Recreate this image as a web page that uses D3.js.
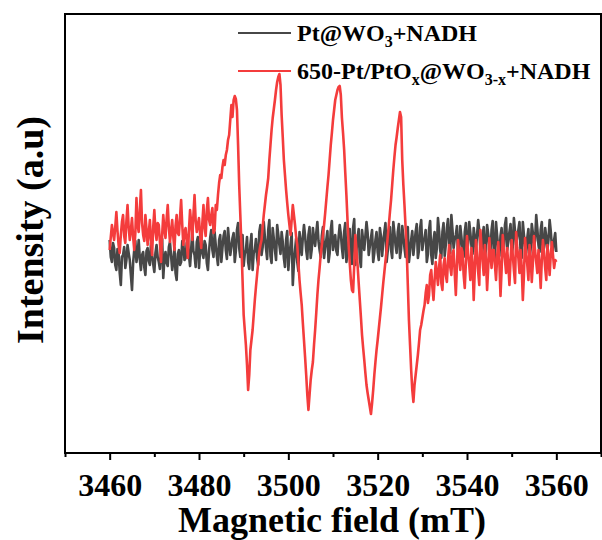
<!DOCTYPE html>
<html lang="en">
<head>
    <meta charset="UTF-8">
    <title>EPR</title>
    <style>
        body { margin: 0; background: #fff; }
        text { font-family: "Liberation Serif", "Times New Roman", serif; font-weight: bold; }
    </style>
</head>
<body>

    <svg id="svg" width="602" height="540"></svg>

    <script src="https://d3js.org/d3.v7.min.js"></script>
    <script>
        // field grid (mT), one reading every 0.25 mT
        const field = d3.range(3460, 3560.001, 0.25)

        // Pt@WO3+NADH (a.u.)
        const black = [
            5, -12, -17, 2, -3, -20, -25, -4, -7, -28, -40, -12, -10, -2, -23, -15, 0, -8, -15, -30,
            -45, -18, -5, 4, -17, -9, 5, -14, -25, -10, -7, -22, -30, -6, -3, -16, -20, 2, -10, -19,
            -27, -8, 0, -12, -17, -24, -5, 6, -33, -14, -7, -18, -21, -2, 3, -11, -25, -16, -3, -28,
            -35, -9, -5, -20, -17, 4, 1, -15, -13, 2, 5, -10, -21, -4, 13, -6, -10, -22, 3, 8,
            -23, -5, 9, -8, -13, 4, 0, -18, -25, -6, 7, 15, -5, -12, 13, 0, -11, -20, 5, 10,
            -17, -3, 9, 14, -5, -14, 17, 3, -10, -2, 7, 12, -17, -6, 15, 22, -3, -12, 5, 10,
            -21, -9, -5, 8, -17, -24, 0, 11, -25, -8, -5, 6, -13, -20, 13, 20, -10, -2, 23, 8,
            -3, -14, 15, 25, -11, -18, 17, 6, -5, -15, 20, 10, 0, -9, 13, 3, -13, -22, 5, 14,
            -25, -10, 0, 12, -40, -18, -5, 7, -17, -26, 13, 2, -10, 8, 20, 9, -5, -14, 10, 18,
            -13, -4, 17, 6, -1, 12, 23, 4, -5, -12, 9, 18, -13, -3, 5, 14, -17, -8, 15, 24,
            -5, 3, 10, -6, -10, 8, 20, 11, -3, -13, 13, 22, -17, -7, 5, 16, -10, -19, 17, 26,
            -20, -6, 7, 16, -13, -22, 15, 4, -5, 9, 23, 12, -10, -1, 7, 15, -17, -8, 5, 13,
            -7, -15, 17, 8, -11, 3, 13, 22, -17, -6, 9, 18, -5, -13, 23, 12, 0, -8, 13, 21,
            -13, -4, 19, 9, -3, -12, 10, 18, -17, -7, 5, 14, -10, 2, 13, 21, -13, -5, 17, 25,
            -5, 4, 7, 15, -17, -9, 15, 24, -10, -19, 5, 13, -13, -3, 27, 14, -5, -13, 13, 22,
            -11, 0, 17, 26, 0, -8, 30, 15, -3, 6, 10, 19, -13, -4, 19, 8, -5, -12, 13, 22,
            -10, 2, 23, 12, -1, -9, 17, 7, -7, 10, 25, 14, -3, -10, 10, 18, -13, -4, 20, 11,
            0, -7, 15, 24, -7, -14, 23, 9, -3, -11, 9, 17, -11, -2, 20, 27, -5, 4, 13, 21,
            -10, -2, 27, 14, 0, 8, 15, 23, -7, -13, 23, 10, -1, -8, 7, 16, -13, -4, 21, 12,
            -3, 5, 30, 16, 0, -7, 15, 23, -10, -2, 17, 8, -5, 6, 25, 14, -1, -6, 5, 12,
            -7
        ]

        // 650-Pt/PtOx@WO3-x+NADH (a.u.)
        const red = [
            -5, 8, 20, 12, 5, 18, 33, 14, 0, -8, 10, 23, 30, 9, 2, 24, 40, 18, 5, 15,
            27, 8, -5, 12, 47, 20, 13, 35, 55, 22, 10, 4, 30, 16, 0, 12, 25, 5, -10, 18,
            35, 14, 5, 22, 20, 3, -17, 10, 30, 15, 7, 26, 40, 18, 3, 14, 25, 8, -5, 19,
            30, 12, 10, 28, 45, 20, 0, 13, 17, 4, -13, 15, 35, 22, 5, 30, 50, 25, 13, 20,
            27, 10, -3, 22, 40, 18, 9, 35, 47, 25, 20, 30, 37, 12, 15, 40, 35, 50, 62, 70,
            67, 78, 85, 80, 90, 95, 105, 110, 125, 140, 128, 145, 149, 146, 135, 100, 60, 30, 0, -35,
            -70, -85, -100, -120, -145, -130, -105, -95, -85, -70, -55, -42, -30, -18, -7, 0, 5, 18, 30, 40,
            50, 58, 67, 85, 100, 115, 127, 136, 145, 155, 163, 168, 171, 160, 130, 108, 85, 70, 55, 42,
            30, 20, 10, 25, 40, 30, 20, 8, 0, -18, -35, -48, -60, -78, -95, -112, -130, -150, -165, -150,
            -135, -125, -117, -100, -85, -68, -50, -35, -23, -10, 0, 10, 20, 32, 45, 58, 70, 85, 100, 112,
            125, 135, 145, 150, 155, 158, 159, 150, 127, 112, 95, 72, 50, 25, 0, -18, -35, -45, -47, -20,
            10, -5, -20, -38, -55, -72, -90, -103, -115, -128, -140, -148, -155, -162, -169, -158, -145, -130, -117, -105,
            -95, -84, -73, -62, -50, -38, -27, -16, -5, 8, 20, 33, 45, 60, 75, 88, 100, 108, 117, 125,
            133, 128, 85, 60, 40, 18, -5, -40, -75, -100, -125, -145, -157, -140, -130, -120, -110, -98, -85, -80,
            -73, -66, -60, -48, -40, -58, -50, -30, -25, -42, -55, -35, -17, -28, -40, -22, -10, -38, -45, -20,
            -13, -30, -37, -15, 0, -22, -30, -8, -5, -28, -50, -20, 5, -12, -25, -3, -7, -30, -43, -18,
            9, -8, -20, -35, -3, -18, -55, -25, 5, -10, -27, -40, 15, -2, -17, -30, 0, -15, -45, -22,
            7, -10, -23, -5, -5, -20, -35, -12, 3, -18, -51, -25, 10, -4, -15, -28, -3, -20, -40, -15,
            5, -10, -25, -38, 13, -3, -13, -28, -5, -22, -55, -30, 7, -8, -20, -35, 0, -12, -37, -18,
            9, -6, -17, -28, -5, -20, -43, -15, 5, -8, -23, -35, 0, -12, -30, -10, 3, -10, -23, -15,
            -17
        ]

        const xTicks = [3460, 3480, 3500, 3520, 3540, 3560]
        const minorTicks = [3450, 3470, 3490, 3510, 3530, 3550, 3570]

        const series = [
            { name: "black", values: black, color: "#474747" },
            { name: "red", values: red, color: "#f43c3c" }
        ]

        const plotLeft = 65, plotRight = 601, plotTop = 14, plotBottom = 453

        const xscale = d3.scaleLinear()
            .domain([3450, 3570])
            .range([plotLeft, plotRight])

        const yscale = d3.scaleLinear()
            .domain([-208, 231])
            .range([plotBottom, plotTop])

        const svg = d3.select("#svg")

        const line = d3.line()
            .x((d, i) => xscale(field[i]))
            .y(d => yscale(d))

        // traces, black first so red sits on top
        svg.append('g')
            .selectAll('path')
            .data(series)
            .enter()
            .append('path')
            .attr('d', d => line(d.values))
            .attr('fill', 'none')
            .attr('stroke', d => d.color)
            .attr('stroke-width', 2.6)
            .attr('stroke-linejoin', 'round')

        // frame
        svg.append('rect')
            .attr('x', plotLeft)
            .attr('y', plotTop)
            .attr('width', plotRight - plotLeft)
            .attr('height', plotBottom - plotTop)
            .attr('fill', 'none')
            .attr('stroke', '#000')
            .attr('stroke-width', 2)

        // bottom axis
        const xAxis = svg.append('g')
            .attr('transform', `translate(0, ${plotBottom})`)
            .call(d3.axisBottom(xscale)
                .tickValues(xTicks)
                .tickFormat(d3.format('d'))
                .tickSize(7))
        xAxis.select('.domain').remove()
        xAxis.selectAll('line').attr('stroke-width', 2)
        xAxis.selectAll('text')
            .attr('y', 43)
            .attr('dy', null)
            .style('font-size', '32px')
            .style('font-family', '"Liberation Serif", serif')
            .style('font-weight', 'bold')
            .attr('fill', '#000')

        const minorAxis = svg.append('g')
            .attr('transform', `translate(0, ${plotBottom})`)
            .call(d3.axisBottom(xscale)
                .tickValues(minorTicks)
                .tickFormat('')
                .tickSize(4))
        minorAxis.select('.domain').remove()
        minorAxis.selectAll('line').attr('stroke-width', 2)

        // axis titles
        svg.append('text')
            .attr('x', 332)
            .attr('y', 532)
            .attr('text-anchor', 'middle')
            .style('font-size', '36px')
            .text('Magnetic field (mT)')

        svg.append('text')
            .attr('transform', 'translate(43, 230) rotate(-90)')
            .attr('text-anchor', 'middle')
            .style('font-size', '38px')
            .text('Intensity (a.u)')

        // legend
        const legend = svg.append('g')

        const legendRows = [
            { color: "#474747", y: 33, parts: [["Pt@WO", 0], ["3", 1], ["+NADH", 0]] },
            { color: "#f43c3c", y: 71, parts: [["650-Pt/PtO", 0], ["x", 1], ["@WO", 0], ["3-x", 1], ["+NADH", 0]] }
        ]

        legendRows.forEach(row => {
            legend.append('line')
                .attr('x1', 238)
                .attr('x2', 291)
                .attr('y1', row.y)
                .attr('y2', row.y)
                .attr('stroke', row.color)
                .attr('stroke-width', 2)

            const t = legend.append('text')
                .attr('x', 297)
                .attr('y', row.y + 8)
                .style('font-size', '24px')

            let shifted = false
            row.parts.forEach(p => {
                const span = t.append('tspan').text(p[0])
                if (p[1] && !shifted) {
                    span.attr('dy', 6).style('font-size', '16px')
                    shifted = true
                } else if (!p[1] && shifted) {
                    span.attr('dy', -6)
                    shifted = false
                } else if (p[1]) {
                    span.style('font-size', '16px')
                }
            })
        })
    </script>
</body>
</html>
